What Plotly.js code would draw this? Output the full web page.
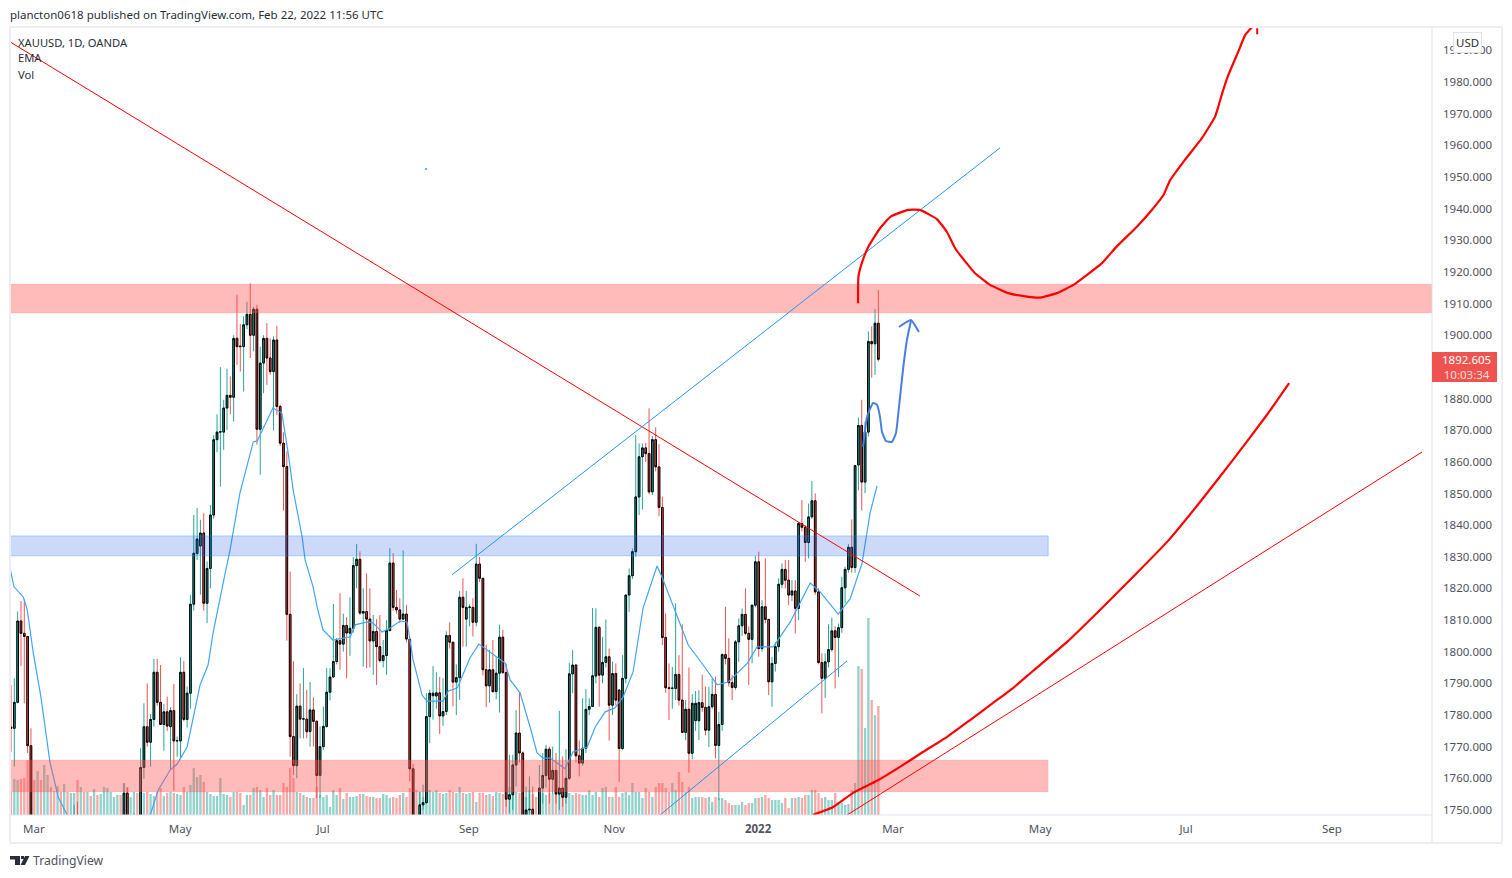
<!DOCTYPE html>
<html>
<head>
<meta charset="utf-8">
<script src="https://cdn.plot.ly/plotly-3.0.1.min.js"></script>
<style>
  html, body { margin: 0; padding: 0; background: #fff; }
  #chart { width: 1512px; height: 878px; }
</style>
</head>
<body>
<div id="chart"></div>
<script>
// Daily XAUUSD bars; bars below the axis are estimates
const opens = [
  1776.2,1775.8,1784,1809.7,1805.8,1804.8,1770.3,1744,1732,1735,
  1700,1715,1732,1727,1722,1735,1730,1738,1730,1740,
  1742,1732,1738,1725,1732,1712,1715,1685,1705,1715,
  1730,1735,1738,1742,1742,1755.3,1738,1742,1745,1745,
  1763.4,1776.3,1771.4,1778.6,1793.5,1784,1777,1781,1776.3,1781.4,
  1771.8,1771.8,1793.5,1778.6,1786.9,1815,1831,1833.4,1837.5,1815.3,
  1826.3,1843.2,1867,1869.4,1869.4,1877,1881,1880.4,1899,1896.6,
  1896.4,1903.3,1906.6,1900,1908.2,1870.3,1891.2,1899,1892.8,1888.5,
  1898.5,1877.5,1865.9,1858.5,1811.8,1773.2,1764,1782.8,1778.7,1778.7,
  1774.8,1781.6,1778,1760.9,1770,1776.4,1787.2,1792,1796.9,1803.5,
  1802.4,1808.3,1805.9,1807.4,1827.2,1829.2,1812.2,1812.7,1810.3,1803.4,
  1806.4,1801.6,1797.2,1798.8,1806.7,1828,1814,1813.2,1810.3,1811.9,
  1804,1763,1742,1738,1751.6,1752.3,1779.5,1786.1,1786,1787,
  1779.7,1781.1,1805.1,1803,1790.4,1791.8,1817.2,1810.3,1814,1814,
  1809.3,1827.7,1823.2,1794.3,1789.2,1794.3,1787.4,1793.2,1804.6,1793.4,
  1753.4,1754.8,1764.2,1774.3,1768,1742,1750,1750.2,1745,1742,
  1756.9,1760.9,1769.2,1759.7,1762.5,1755,1756.9,1754,1760,1793,
  1795.8,1767.1,1764.8,1769.5,1781.8,1782.7,1792.3,1807.7,1792.6,1796.6,
  1798.4,1783.1,1793.1,1787.9,1769.4,1791.6,1817.9,1824,1831.6,1848.9,
  1861.6,1864.4,1862.6,1850.5,1867,1858.4,1845.6,1804.5,1788.6,1788.4,
  1788.4,1792.8,1784.7,1774.5,1781.8,1767.9,1778.2,1778.2,1783.9,1782.4,
  1775.2,1782.6,1786.5,1770.4,1777,1799.1,1797.9,1790.2,1788.7,1803.1,
  1808.2,1811.8,1805.8,1803.9,1814.7,1828.4,1801,1814.2,1810.2,1790.5,
  1796.3,1801.6,1821.3,1826,1822.6,1817.9,1819.2,1813.7,1840.5,1839.3,
  1834.5,1842.6,1847.7,1818.9,1796.6,1791.6,1796.8,1800.7,1806.6,1804.5,
  1807.6,1820.2,1826,1833,1826.6,1859,1871.5,1853.6,1869.4,1898,1897.3,1903.8
];
const highs = [
  1789.5,1791.6,1812.7,1816,1816.5,1805,1775.8,1746,1742,1740,
  1718,1738,1745,1740,1738,1746,1742,1746,1745,1751.6,
  1752.6,1745,1746,1735,1738,1722,1725,1710,1725,1735,
  1744,1745,1746,1747,1758.4,1757,1746,1749,1747,1769.5,
  1783.7,1790,1780.3,1797.7,1797.7,1795.8,1783.5,1785.8,1782.4,1789.8,
  1773.2,1798.2,1797,1789,1817.9,1843.2,1845.4,1841.7,1843.8,1828.5,
  1846.4,1868.5,1875,1889.9,1879.6,1889.4,1887,1900,1912.8,1903.6,
  1906,1910.6,1916.4,1909,1909.6,1896.4,1900,1903.8,1899,1899.6,
  1903,1878,1869.3,1863.3,1825.3,1797,1786.6,1790,1794.8,1788,
  1790.4,1785.6,1778.3,1776.4,1782.7,1794.8,1794.8,1815.1,1804.3,1818.5,
  1812,1810.9,1817.2,1829.9,1834,1831.7,1820,1824.8,1820,1811.6,
  1810.3,1811.6,1803.7,1809.9,1832.7,1831.1,1819.5,1816.9,1832,1814.8,
  1804,1764.5,1746,1755.8,1758,1786.9,1788,1795.5,1793.5,1792,
  1791.6,1806.4,1809.3,1803,1796,1819.2,1823.2,1819.2,1815,1816.9,
  1834.1,1829.9,1823.2,1802.2,1800.6,1803.7,1798.5,1808.5,1806.9,1796.2,
  1767.4,1767.4,1781.6,1787.2,1768.5,1757.4,1760.6,1757.4,1748,1764.2,
  1768,1770.6,1770,1770,1768,1781.3,1766.9,1769.2,1796.4,1800.6,
  1796,1771.9,1785.3,1788.2,1785.3,1813.8,1813.7,1808,1804.7,1810.2,
  1801,1796.8,1796.3,1788,1798.9,1818,1826.3,1832.6,1868.4,1865.8,
  1865.8,1866,1876.9,1868.1,1870.9,1865.6,1849,1812.1,1796.3,1795.2,
  1815.3,1798.9,1808.7,1784.7,1795,1786.6,1787.6,1787.8,1792.8,1789,
  1788.9,1791.6,1792.1,1781,1799.5,1814.2,1804.2,1792.6,1803.7,1810.5,
  1813.7,1820,1808,1814.7,1830.2,1831.6,1816.3,1829.5,1810.2,1798.4,
  1803,1823.2,1827.9,1829,1829,1822.6,1822.6,1841,1847.9,1840,
  1846.8,1853.9,1850,1820,1799.5,1799.5,1808.7,1810.8,1808,1808.9,
  1823.7,1826.8,1834,1841.8,1859,1874,1879.6,1872.7,1901.2,1902.8,1908.3,1914.3
];
const lows = [
  1768.4,1763.7,1783.7,1795.5,1783.7,1768,1738,1725,1718,1695,
  1690,1710,1722,1718,1716,1725,1722,1725,1724,1730,
  1725,1722,1720,1715,1705,1700,1680,1678,1700,1712,
  1725,1730,1732,1735,1738,1735,1730,1735,1738,1740,
  1759.8,1770,1763.7,1776.3,1783,1777,1768.7,1775,1762.6,1756.1,
  1766.8,1766,1778,1776,1782,1813,1829,1818,1813,1809,
  1820,1842,1863,1852.2,1863.8,1870,1875,1872.7,1890.6,1888.5,
  1882.2,1901.9,1892.8,1894.9,1865.4,1855.9,1881.7,1884.3,1887.5,1869.9,
  1874.8,1865,1844.6,1803.5,1766.8,1761,1760,1772.6,1772.6,1772.6,
  1770,1770,1753.7,1753.7,1769,1776,1784.6,1792,1796,1794.3,
  1800,1791.6,1798.7,1806,1820,1811.6,1795.3,1794.8,1795,1792.7,
  1789.5,1796.6,1795,1792.7,1806.4,1813,1812,1809,1810,1803,
  1759,1738,1730,1735,1750,1752,1771.1,1778.5,1782,1774,
  1776.6,1780,1801,1782.7,1780,1784.8,1801.6,1801.6,1808,1804.8,
  1808,1822,1792.5,1782.5,1783.9,1787,1785,1780.8,1793,1751,
  1749,1750,1757.4,1765,1738,1738,1745,1742,1735,1738,
  1752,1757,1752,1755,1752,1750,1751,1752,1759.5,1786.9,
  1765,1760.6,1764,1768,1780,1782.7,1790,1782.6,1790,1795,
  1771.9,1780,1783,1758.9,1769,1790,1812.6,1823,1830,1843.2,
  1844.9,1860,1849.8,1849.5,1857,1842.8,1802.1,1787,1778.4,1782,
  1784.7,1783,1774.2,1772,1761.8,1766,1775,1772.1,1781,1773.6,
  1769.9,1782,1766.3,1753.1,1775,1796,1789,1784.7,1788,1796.8,
  1805,1805.2,1789.5,1796.3,1814,1798.4,1800,1809,1786.3,1782.6,
  1793.7,1800,1820,1820,1814.7,1816,1805.8,1810,1838,1828.4,
  1829.5,1842,1818,1796,1780.5,1785.4,1795,1800,1788.4,1792,
  1806,1815.3,1825,1825,1825,1851,1844.6,1850.1,1868,1886.6,1887.5,1891.7
];
const closes = [
  1775.8,1784,1809.7,1805.8,1804.8,1770.3,1744,1732,1735,1700,
  1715,1732,1727,1722,1735,1730,1738,1730,1740,1742,
  1732,1738,1725,1732,1712,1715,1685,1705,1715,1730,
  1735,1738,1742,1740,1755.3,1738,1742,1745,1744,1763.4,
  1776.3,1771.4,1778.6,1793.5,1784,1777,1781,1776.5,1781.4,1771.8,
  1771.9,1793.5,1778.6,1786.9,1815,1831.1,1835.6,1837.5,1815.3,1826.3,
  1843.2,1867,1869.4,1869.5,1877,1881,1880.4,1899,1896.4,1896.4,
  1903.3,1906.6,1900,1908.2,1870.3,1891.2,1899,1892.8,1888.5,1898.5,
  1877.5,1865.9,1858.5,1811.8,1773.2,1764,1782.8,1778.7,1778.8,1774.7,
  1781.6,1778,1760.9,1770,1776.4,1787.2,1792,1796.9,1803.5,1802.4,
  1808.3,1805.9,1807.4,1827.2,1829.2,1812.2,1812.7,1810.3,1803.4,1806.4,
  1801.6,1797.2,1798.8,1806.7,1828,1814,1813.2,1810.3,1811.9,1804,
  1763,1742,1738,1751.6,1752.3,1779.5,1786.9,1786.9,1787,1779.7,
  1781.1,1805.1,1803,1790.4,1791.8,1817.2,1814,1814,1814.1,1809.3,
  1827.7,1823.2,1794.3,1789.2,1794.3,1787.4,1793.2,1804.6,1793.4,1753.4,
  1754.8,1764.2,1774.3,1768,1742,1750,1750.2,1745,1742,1756.9,
  1760.9,1769.2,1759.7,1762.5,1755,1756.9,1754,1760,1793,1795.8,
  1767.1,1764.8,1769.5,1781.8,1782.7,1792.4,1807.7,1792.6,1796.6,1798.4,
  1783.1,1793.1,1784.7,1769.4,1791.6,1817.9,1824,1831.6,1848.9,1861.6,
  1864.4,1862.6,1850.5,1867,1858.4,1845.6,1804.5,1788.6,1788.4,1788.5,
  1792.8,1784.7,1774.5,1781.8,1767.9,1783.7,1783.7,1783.9,1782.4,1775.2,
  1782.6,1786.5,1770.4,1777,1799.1,1797.9,1790.2,1788.7,1803.1,1808.2,
  1811.8,1805.8,1803.9,1814.7,1828.4,1801,1814.2,1810.2,1790.5,1796.3,
  1801.6,1821.3,1826,1822.6,1817.9,1819.2,1813.7,1840.5,1839.3,1834.5,
  1842.6,1847.7,1818.9,1796.6,1791.6,1796.8,1800.7,1806.6,1804.5,1807.6,
  1820.2,1826,1833,1826.6,1858.8,1871.5,1853.6,1869.4,1898,1897.3,1903.8,1892.4
];
const volumes = [
  23,36,35,36,37,55,46,35,44,35,
  50,40,28,24,29,23,31,23,22,22,
  35,28,23,23,19,26,20,21,28,27,
  23,18,20,20,32,28,18,23,22,23,
  22,23,21,19,23,27,19,22,23,22,
  21,20,28,23,30,47,38,40,33,23,
  21,19,19,37,21,20,18,23,23,22,
  10,20,20,27,28,25,18,27,20,25,
  20,20,32,28,47,37,23,22,20,18,
  17,17,28,20,18,20,8,25,20,27,
  16,22,18,18,19,21,21,19,18,18,
  17,17,21,20,17,18,17,20,22,18,
  27,22,25,23,18,23,25,23,25,22,
  21,22,25,23,22,28,22,21,22,23,
  13,22,22,20,21,19,23,22,21,21,
  28,21,23,22,22,18,25,21,18,23,
  22,20,22,21,20,21,22,23,22,20,
  22,21,20,20,25,20,23,18,27,28,
  18,18,28,18,22,23,20,32,23,23,
  17,27,23,18,28,32,32,27,23,32,
  25,43,33,23,28,17,18,18,18,17,
  18,13,18,17,17,15,12,10,10,10,
  13,10,12,12,17,17,18,20,17,15,
  15,15,12,17,7,17,17,18,17,20,
  20,25,25,22,17,18,15,15,22,13,
  12,10,11,25,32,149,146,87,197,115,100,109
];

// EMA, read at its turning points (bar number, price)
const emaBars = [-0.3,0.9,3.7,4.9,6.7,9,10.8,11.7,14.2,16.9,25,35,41.9,44.3,47.9,50,53,56,56.9,59.3,60.8,63.9,65.9,68.9,72.9,74.1,78.8,81.5,83.4,84.9,87.6,88.5,90.9,92.2,93.9,96.9,102.1,103.6,107.2,108.9,111.7,114.1,117.1,119.2,121,123.7,125.2,130,131.6,134.3,138.1,140.8,146.3,148.7,150.2,153.2,156.2,158.3,160.1,162.3,166.7,169.1,173.4,175.8,178.8,181.7,184.2,187.2,190.2,194.4,195.9,199.8,203.8,208.3,212.5,215.8,221.6,224.5,229.4,234.5,240.5,243.5,248.9,252.5,256.1,258.5,260.6];
const emaPrices = [1826.5,1820.5,1817.3,1813.2,1799.6,1785.7,1772.1,1765.2,1754.1,1748.4,1735,1736,1748.4,1756.3,1762.6,1764.5,1769.9,1785.7,1789.5,1795.8,1805.9,1822,1832.1,1850.2,1866.3,1866.6,1877,1875.4,1862.8,1851.1,1836.3,1829,1820.5,1813.8,1806.9,1803.7,1804.7,1808.5,1809.4,1809.1,1806.2,1807.5,1809.7,1809.4,1797.4,1786.3,1784.4,1784.4,1787.6,1788.5,1798,1802.4,1798.3,1796.4,1791.1,1787,1776.2,1768,1766.4,1766.4,1763,1768.3,1769.9,1776.2,1781,1782.2,1785.7,1793.6,1813.8,1827.1,1823.6,1813.2,1802.1,1795.8,1789.5,1790.4,1796.4,1801.5,1801.5,1809.4,1821.7,1818.9,1811.9,1816.7,1828,1843.8,1852.4];

// Straight drawings, two ends each
const redLineBars = [-0.3,273.5], redLinePrices = [1992.7,1817.6];
const blueTopBars = [132.7,297.6], blueTopPrices = [1824.3,1959.2];
const blueLowBars = [195.3,251.6], blueLowPrices = [1748.4,1797.1];
const thinRedBars = [251.6,424.6], thinRedPrices = [1748.4,1863.1];

// Hand drawn curves
const lowCurveBars = [241.3,247.4,253.4,260.6,267.5,274.4,281.7,288.6,295.5,301.5,307.5,317.8,327.7,337.6,347.9,357.8,367.7,377.9,384.6];
const lowCurvePrices = [1748.4,1750.9,1755.4,1759.2,1763.6,1768.3,1773.1,1778.4,1783.8,1788.5,1793.9,1803.1,1813.2,1823.6,1834.7,1847.3,1860.6,1874.8,1884.9];
const topCurveBars = [254.9,255,256,258,261.5,264.7,270,273.5,278.6,281.6,284.1,287.6,290.1,294.6,300.1,305.7,309.7,314.7,319.7,323.7,328.2,332.7,338.8,343.3,346.8,348.8,352.8,358.3,362.3,363.3,364.3,366.3,369.3,371.4,373.4];
const topCurvePrices = [1910.1,1918.5,1922.7,1928,1933.8,1937.5,1939.6,1939.6,1936.7,1932.7,1927.5,1922.7,1919.6,1915.9,1913.3,1912.2,1911.9,1913.3,1915.9,1919,1922.7,1928,1934.3,1939.6,1944.3,1949,1954.8,1962.2,1969,1972.2,1975.9,1982.2,1989.6,1994.9,1997.3];
const topTickBars = [375,375], topTickPrices = [1997,1995.1];
const handBars = [256.4,257.6,259.4,260.6,261.5,262.1,263.3,265.1,266.3,267.2,268.4,269.6,270.8];
const handPrices = [1864.7,1874.2,1878.6,1878,1874.2,1869.4,1866.6,1866.3,1869.1,1877.3,1889,1898.5,1904.5];
const arrowBars = [267.2,270.8,273.2], arrowPrices = [1902.6,1904.8,1901];

// Price zones: [last bar, bottom, top]
const zoneTop = [427.6,1907,1916.2];
const zoneBlue = [312.1,1830.3,1836.6];
const zoneLow = [312.1,1755.7,1765.8];

const timeTickBars = [6.9,50.9,93.9,137.8,181.5,224.8,265.4,309.7,353.6,397.5];
const timeTickLabels = ['Mar','May','Jul','Sep','Nov','<b>2022</b>','Mar','May','Jul','Sep'];
const priceTicks = [1750,1760,1770,1780,1790,1800,1810,1820,1830,1840,1850,1860,1870,1880,1900,1910,1920,1930,1940,1950,1960,1970,1980,1990];

const TEAL = '#26a69a', RED = '#ef5350', BLUE = '#2196f3', DRAW_RED = '#ff0000';
const FONT = '"Noto Sans", sans-serif';
const bars = opens.map((_, i) => i);

function lineTrace(x, y, color, width) {
    return { x, y, yaxis: 'y2', type: 'scatter', mode: 'lines', hoverinfo: 'skip',
             line: { color, width, shape: 'spline', smoothing: 0.4 } };
}

function zoneTrace(zone, fill, edge) {
    const [end, bottom, top] = zone;
    return { x: [-0.3, end, end, -0.3, -0.3], y: [bottom, bottom, top, top, bottom], yaxis: 'y2',
             type: 'scatter', mode: 'lines', fill: 'toself', fillcolor: fill,
             line: { color: edge, width: 1 }, hoverinfo: 'skip' };
}

const traces = [
    { x: bars, y: volumes, type: 'bar', yaxis: 'y', hoverinfo: 'skip',
      marker: { color: closes.map((c, i) => c >= opens[i] ? 'rgba(38,166,154,0.5)' : 'rgba(239,83,80,0.5)'), line: { width: 0 } } },
    // wicks, then bodies with the black outline on top
    { x: bars, open: opens, high: highs, low: lows, close: closes, type: 'candlestick', yaxis: 'y2', hoverinfo: 'skip',
      increasing: { line: { color: TEAL, width: 1 }, fillcolor: TEAL },
      decreasing: { line: { color: RED, width: 1 }, fillcolor: RED } },
    { x: bars, open: opens, close: closes,
      high: opens.map((o, i) => Math.max(o, closes[i])),
      low: opens.map((o, i) => Math.min(o, closes[i])),
      type: 'candlestick', yaxis: 'y2', hoverinfo: 'skip',
      increasing: { line: { color: '#000', width: 1 }, fillcolor: TEAL },
      decreasing: { line: { color: '#000', width: 1 }, fillcolor: RED } },
    { x: emaBars, y: emaPrices, yaxis: 'y2', type: 'scatter', mode: 'lines', hoverinfo: 'skip',
      line: { color: '#42a5f5', width: 1.2 } },
    zoneTrace(zoneTop, 'rgba(255,82,82,0.4)', 'rgba(255,82,82,0.1)'),
    zoneTrace(zoneBlue, 'rgba(41,98,226,0.24)', 'rgba(33,150,243,0.35)'),
    zoneTrace(zoneLow, 'rgba(255,82,82,0.4)', 'rgba(255,82,82,0.1)'),
    lineTrace(redLineBars, redLinePrices, DRAW_RED, 1),
    lineTrace(blueTopBars, blueTopPrices, BLUE, 1),
    lineTrace(blueLowBars, blueLowPrices, BLUE, 1),
    lineTrace(thinRedBars, thinRedPrices, DRAW_RED, 1),
    lineTrace(lowCurveBars, lowCurvePrices, DRAW_RED, 2.2),
    lineTrace(topCurveBars, topCurvePrices, DRAW_RED, 2.2),
    lineTrace(topTickBars, topTickPrices, DRAW_RED, 2),
    lineTrace(handBars, handPrices, '#4a7fe0', 2),
    lineTrace(arrowBars, arrowPrices, '#4a7fe0', 2),
    { x: [124.9], y: [1952.5], yaxis: 'y2', type: 'scatter', mode: 'markers', hoverinfo: 'skip',
      marker: { color: BLUE, size: 2 } }
];

// page furniture sits in pixels of the 1512x878 frame
const px = x => (x - 10) / 1422;
const py = y => (815 - y) / 788;

function edge(x0, y0, x1, y1, color, width) {
    return { type: 'line', xref: 'paper', yref: 'paper', x0: px(x0), y0: py(y0), x1: px(x1), y1: py(y1),
             line: { color, width } };
}

function polygon(points, fill) {
    const d = points.map((p, i) => (i ? 'L' : 'M') + px(p[0]) + ',' + py(p[1])).join(' ') + ' Z';
    return { type: 'path', xref: 'paper', yref: 'paper', path: d, fillcolor: fill, line: { width: 0 } };
}

function label(text, x, y, size, color, anchor) {
    return { text, xref: 'paper', yref: 'paper', x: px(x), y: py(y), xanchor: anchor || 'left', yanchor: 'middle',
             showarrow: false, font: { family: FONT, size, color } };
}

const shapes = [
    edge(10, 27, 1502, 27, '#eceef4', 2),
    edge(10, 27, 10, 843, '#eceef4', 2),
    edge(1502, 27, 1502, 843, '#eceef4', 2),
    edge(10, 843, 1502, 843, '#eceef4', 2),
    edge(1432, 27, 1432, 843, '#e0e3eb', 1),
    edge(10, 815, 1432, 815, '#e0e3eb', 1),
    polygon([[1432, 352], [1497, 352], [1497, 382], [1432, 382]], RED),
    polygon([[10, 856], [20, 856], [20, 865], [15, 865], [15, 859.5], [10, 859.5]], '#2a2e39'),
    polygon([[25, 856], [29.5, 856], [25, 865], [20.5, 865]], '#2a2e39'),
    polygon([[21, 856], [24, 856], [24, 859], [21, 859]], '#2a2e39')
];

const annotations = [
    label('plancton0618 published on TradingView.com, Feb 22, 2022 11:56 UTC', 8, 14, 11.5, '#2a2e39'),
    label('XAUUSD, 1D, OANDA', 16, 42, 11.2, '#2a2e39'),
    label('EMA', 16, 58, 11.2, '#2a2e39'),
    label('Vol', 16, 75, 11.2, '#2a2e39'),
    label('TradingView', 31, 860, 12.2, '#50535e'),
    label('1892.605<br><span style="color:#fbdcdb">10:03:34</span>', 1466, 367, 11.5, '#ffffff', 'center'),
    Object.assign(label('USD', 1467, 42.5, 11.5, '#2a2e39', 'center'),
        { bgcolor: '#ffffff', bordercolor: '#e0e3eb', borderwidth: 1, borderpad: 2 })
];

const layout = {
    width: 1512,
    height: 878,
    margin: { l: 10, r: 80, t: 27, b: 63 },
    paper_bgcolor: '#ffffff',
    plot_bgcolor: '#ffffff',
    showlegend: false,
    bargap: 0.3,
    font: { family: FONT, size: 12, color: '#50535e' },
    xaxis: {
        range: [-0.3, 427.6],
        rangeslider: { visible: false },
        showgrid: false,
        zeroline: false,
        ticks: '',
        tickmode: 'array',
        tickvals: timeTickBars,
        ticktext: timeTickLabels,
        ticklabelstandoff: 5,
        tickfont: { family: FONT, size: 11.5, color: '#50535e' }
    },
    yaxis: { range: [0, 788], visible: false, fixedrange: true },
    yaxis2: {
        overlaying: 'y',
        side: 'right',
        range: [1748.4, 1997.4],
        showgrid: false,
        zeroline: false,
        ticks: '',
        tickmode: 'array',
        tickvals: priceTicks,
        ticktext: priceTicks.map(v => v.toFixed(3)),
        ticklabelstandoff: 10,
        tickfont: { family: FONT, size: 11.5, color: '#50535e' }
    },
    shapes,
    annotations
};

Plotly.newPlot('chart', traces, layout, { displayModeBar: false, staticPlot: true });
</script>
</body>
</html>
